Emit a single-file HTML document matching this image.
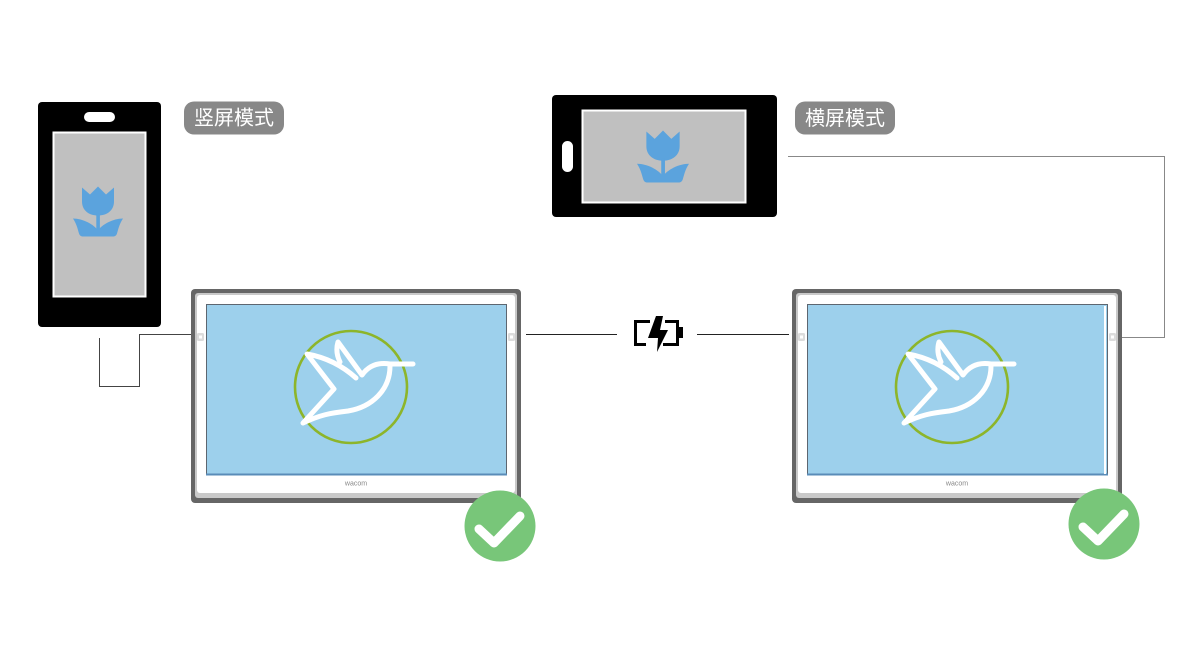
<!DOCTYPE html>
<html><head><meta charset="utf-8"><style>
html,body{margin:0;padding:0;background:#fff;}
svg{display:block;}
text{font-family:"Liberation Sans","Noto Sans CJK SC",sans-serif;}
</style></head><body>
<svg width="1200" height="650" viewBox="0 0 1200 650" xmlns="http://www.w3.org/2000/svg">
<defs>
<g id="tulip">
  <path d="M9 1 L17 8 L25 0 L33 8 L41 1 L41 15 C41 24 34 29 25 29 C16 29 9 24 9 15 Z" fill="#5ba3dd"/>
  <rect x="23.3" y="27" width="3.6" height="18" fill="#5ba3dd"/>
  <path d="M0 32 C10 32 21 38 25 44 C29 38 40 32 50 32 C46 38 45 44 44 47 C43 50 41 50 39 50 L11 50 C9 50 7 50 6 47 C5 44 4 38 0 32 Z" fill="#5ba3dd"/>
</g>
<g id="tablet">
  <rect x="191" y="289" width="330" height="214" rx="4" fill="#666"/>
  <rect x="195" y="293" width="322" height="205" rx="3" fill="#c9c9c9"/>
  <rect x="197" y="295" width="318" height="198" rx="3" fill="#fff"/>
  <rect x="206.5" y="304.5" width="300" height="170" fill="#9dd0ec" stroke="#5d6670" stroke-width="1"/>
  <line x1="206" y1="474.5" x2="507" y2="474.5" stroke="#5a8cb8" stroke-width="2"/>
  <rect x="197" y="333" width="7" height="8" rx="1.5" fill="#dcdcdc"/>
  <rect x="199" y="335.5" width="3" height="3" fill="#fff"/>
  <rect x="508" y="333" width="7" height="8" rx="1.5" fill="#dcdcdc"/>
  <rect x="510" y="335.5" width="3" height="3" fill="#fff"/>
  <text x="356" y="485.5" font-size="7" fill="#888" text-anchor="middle">wacom</text>
  <circle cx="351" cy="387" r="56" fill="none" stroke="#8db52a" stroke-width="2.6"/>
  <path d="M413 364 L390 364 Q372 361 362 375 L338 342 Q335 352 340 362" fill="none" stroke="#fff" stroke-width="5" stroke-linecap="round" stroke-linejoin="round"/>
  <path d="M356 378 Q335 359 307 354 L334 389 L303 423 C320 415 330 413 348 411 C372 407 390 390 390 366" fill="none" stroke="#fff" stroke-width="5" stroke-linecap="round" stroke-linejoin="round"/>
</g>
</defs>

<!-- Portrait phone -->
<rect x="38" y="102" width="123" height="225" rx="4" fill="#000"/>
<rect x="53.5" y="132.5" width="92" height="164" fill="#c0c0c0" stroke="#fff" stroke-width="2"/>
<rect x="84" y="112" width="31" height="10" rx="5" fill="#fff"/>
<use href="#tulip" transform="translate(73,186.5)"/>

<!-- Label portrait -->
<rect x="184" y="101.5" width="100" height="33" rx="10" fill="#888"/>
<text x="234" y="124.5" font-size="20" fill="#fff" text-anchor="middle">竖屏模式</text>

<!-- Landscape phone -->
<rect x="552" y="95" width="225" height="122" rx="4" fill="#000"/>
<rect x="582.5" y="110.5" width="163" height="92" fill="#c0c0c0" stroke="#fff" stroke-width="2"/>
<rect x="562" y="141" width="11" height="31" rx="5.5" fill="#fff"/>
<use href="#tulip" transform="translate(637,130.5) scale(1.04)"/>

<!-- Label landscape -->
<rect x="795" y="101.5" width="100" height="33" rx="10" fill="#888"/>
<text x="845" y="125" font-size="20" fill="#fff" text-anchor="middle">横屏模式</text>

<!-- Left connector -->
<path d="M193 334.5 H139.5 V386.5 H99.5 V338" fill="none" stroke="#444" stroke-width="1"/>

<!-- Right connector -->
<path d="M1115 337.5 H1164.5 V156.5 H788" fill="none" stroke="#888" stroke-width="1"/>

<!-- Middle lines -->
<line x1="526" y1="334.5" x2="617" y2="334.5" stroke="#222" stroke-width="1"/>
<line x1="697" y1="334.5" x2="789" y2="334.5" stroke="#222" stroke-width="1"/>

<!-- Battery icon -->
<path d="M650 321.5 H635.5 V344.5 H646" fill="none" stroke="#000" stroke-width="3"/>
<path d="M665 321.5 H677.5 V344.5 H663" fill="none" stroke="#000" stroke-width="3"/>
<rect x="679" y="327" width="4" height="11" fill="#000"/>
<polygon points="656,316 663,316 660,330 668,330 657,352 658,338 648,338" fill="#000"/>

<!-- Tablets -->
<use href="#tablet"/>
<use href="#tablet" transform="translate(601,0)"/>
<line x1="1105" y1="306" x2="1105" y2="474" stroke="#fff" stroke-width="2"/>

<!-- Checks -->
<circle cx="500" cy="526" r="35.5" fill="#78c679"/>
<path d="M479 529 L494 543 L520 516" fill="none" stroke="#fff" stroke-width="9" stroke-linecap="round" stroke-linejoin="round"/>
<circle cx="1104" cy="524" r="35.5" fill="#78c679"/>
<path d="M1083 527 L1098 541 L1124 514" fill="none" stroke="#fff" stroke-width="9" stroke-linecap="round" stroke-linejoin="round"/>
</svg>
</body></html>
